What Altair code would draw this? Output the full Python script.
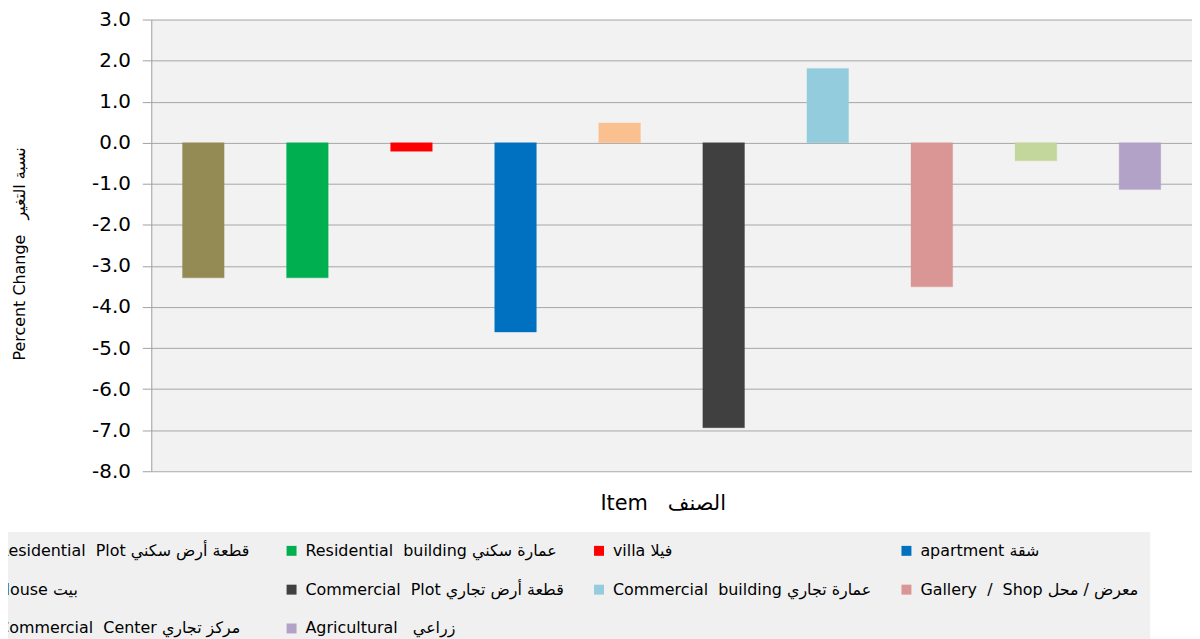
import altair as alt
import pandas as pd

NB = "\u00a0"
categories = [
    "Residential" + NB + " Plot قطعة أرض سكني",
    "Residential" + NB + " building عمارة سكني",
    "villa فيلا",
    "apartment شقة",
    "House بيت",
    "Commercial" + NB + " Plot قطعة أرض تجاري",
    "Commercial" + NB + " building عمارة تجاري",
    "Gallery" + NB + " /" + NB + " Shop معرض / محل",
    "Commercial" + NB + " Center مركز تجاري",
    "Agricultural" + NB + NB + " زراعي",
]
values = [-3.29, -3.29, -0.21, -4.61, 0.48, -6.94, 1.81, -3.51, -0.44, -1.14]
colors = ["#948A54", "#00B050", "#FF0000", "#0070C0", "#FAC090",
          "#404040", "#93CDDD", "#D99694", "#C3D69B", "#B3A2C7"]
y_ticks = [3, 2, 1, 0, -1, -2, -3, -4, -5, -6, -7, -8]

df = pd.DataFrame({"item": categories, "change": values})

FONT = "DejaVu Sans, Liberation Sans, Arial"

bars = alt.Chart(df).mark_bar(strokeWidth=1, strokeOpacity=0.35).encode(
    x=alt.X("item:N", sort=categories,
            scale=alt.Scale(paddingInner=0.6, paddingOuter=0.3),
            axis=alt.Axis(title="Item" + NB + NB + " الصنف", labels=False, ticks=False,
                          domain=False,
                          titleFont=FONT, titleFontSize=21, titleFontWeight="normal",
                          titleColor="#000000", titlePadding=21, titleX=514)),
    y=alt.Y("change:Q", scale=alt.Scale(domain=[-8, 3], nice=False, zero=True),
            axis=alt.Axis(title="Percent Change" + NB + NB + " نسبة التغير", values=y_ticks,
                          labelExpr="replace(format(datum.value, '.1f'), '\u2212', '-')",
                          labelFont=FONT, labelFontSize=20, labelColor="#000000",
                          labelPadding=12, tickSize=9, tickColor="#A0A0A0",
                          domainColor="#A0A0A0", gridColor="#A6A6A6", grid=True,
                          titleFont=FONT, titleFontSize=16, titleFontWeight="normal",
                          titleColor="#000000", titleX=-132, titleY=235,
                          titleAngle=-90, titleAlign="center", titleBaseline="middle")),
    color=alt.Color("item:N", sort=categories,
                    scale=alt.Scale(domain=categories, range=colors),
                    legend=alt.Legend(title=None, orient="none", legendX=-187, legendY=515,
                                      direction="horizontal",
                                      columns=4, gridAlign="all", symbolType="square",
                                      symbolSize=100, symbolStrokeWidth=0,
                                      labelFont=FONT, labelFontSize=16, labelColor="#000000",
                                      labelLimit=400, columnPadding=27, rowPadding=23,
                                      padding=11, fillColor="#F0F0F0", labelOffset=6)),
    stroke=alt.Color("item:N", sort=categories,
                     scale=alt.Scale(domain=categories, range=colors), legend=None),
)

chart = bars.properties(
    width=1046, height=454,
    background="#FFFFFF",
    padding={"left": 144, "top": 10, "right": 0, "bottom": 167},
    autosize=alt.AutoSizeParams(type="none"),
).configure_view(fill="#F2F2F2", stroke=None)

chart.save("out.html", embed_options={"renderer": "svg", "actions": False})
